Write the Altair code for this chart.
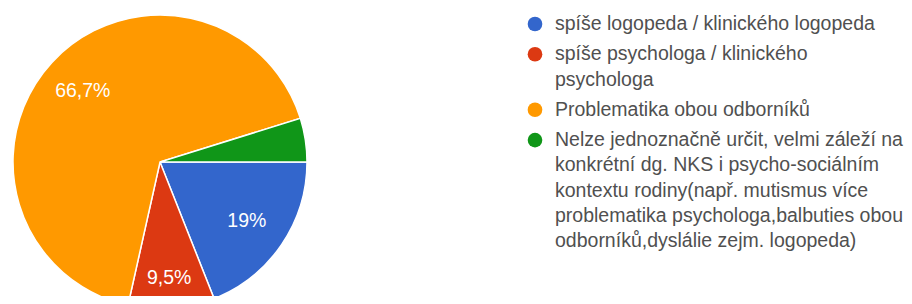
import math
import altair as alt
import pandas as pd

# ---- data ----
categories = [
    "spíše logopeda / klinického logopeda",
    "spíše psychologa / klinického psychologa",
    "Problematika obou odborníků",
    "Nelze jednoznačně určit",
]
percent = [19.0, 9.5, 66.7, 4.8]
pie_labels = ["19%", "9,5%", "66,7%", ""]
colors = ["#3366cc", "#dc3912", "#ff9900", "#109618"]
legend_lines = [
    ["spíše logopeda / klinického logopeda"],
    ["spíše psychologa / klinického", "psychologa"],
    ["Problematika obou odborníků"],
    [
        "Nelze jednoznačně určit, velmi záleží na",
        "konkrétní dg. NKS i psycho-sociálním",
        "kontextu rodiny(např. mutismus více",
        "problematika psychologa,balbuties obou",
        "odborníků,dyslálie zejm. logopeda)",
    ],
]

FONT = "Liberation Sans"

pie_df = pd.DataFrame(
    {
        "cat": categories,
        "percent": percent,
        "label": pie_labels,
        "order": list(range(len(categories))),
    }
)

rows = []
line_no = 0
for i, (cat, lines) in enumerate(zip(categories, legend_lines)):
    for j, ln in enumerate(lines):
        rows.append(
            {"cat": cat, "line": ln, "pos": line_no + 0.2 * i, "first": j == 0}
        )
        line_no += 1
leg_df = pd.DataFrame(rows)

theta = alt.Theta(
    "percent:Q",
    stack=True,
    scale=alt.Scale(range=[math.pi / 2, math.pi / 2 + 2 * math.pi]),
)
color = alt.Color(
    "cat:N", scale=alt.Scale(domain=categories, range=colors), legend=None
)
order = alt.Order("order:Q")
cx = alt.value(152)
cy = alt.value(154)

arc = (
    alt.Chart(pie_df)
    .mark_arc(outerRadius=147, stroke="white", strokeWidth=1.5)
    .encode(theta=theta, color=color, order=order, x=cx, y=cy)
)

labels_main = (
    alt.Chart(pie_df)
    .transform_calculate(t="datum.order != 1 ? datum.label : ''")
    .mark_text(font=FONT, fontSize=19.5, color="white", radius=105)
    .encode(theta=theta, order=order, text="t:N", x=cx, y=cy)
)
labels_small = (
    alt.Chart(pie_df)
    .transform_calculate(t="datum.order == 1 ? datum.label : ''")
    .mark_text(font=FONT, fontSize=19.5, color="white", radius=116)
    .encode(theta=theta, order=order, text="t:N", x=cx, y=cy)
)

ypos = alt.Y(
    "pos:Q", scale=alt.Scale(domain=[0, 8.6], range=[16, 233]), axis=None
)

leg_pts = (
    alt.Chart(leg_df)
    .transform_filter("datum.first")
    .mark_circle(size=215, opacity=1)
    .encode(x=alt.value(527), y=ypos, color=color)
)

leg_text = (
    alt.Chart(leg_df)
    .mark_text(font=FONT, fontSize=19.5, color="#505050", align="left", baseline="middle")
    .encode(x=alt.value(547), y=ypos, text="line:N")
)

chart = (
    alt.layer(arc, labels_main, labels_small, leg_pts, leg_text)
    .properties(
        width=896,
        height=288,
        padding=0,
        autosize=alt.AutoSizeParams(type="none"),
    )
    .configure_view(stroke=None)
)

chart.save("out.html", embed_options={"renderer": "svg", "actions": False})
